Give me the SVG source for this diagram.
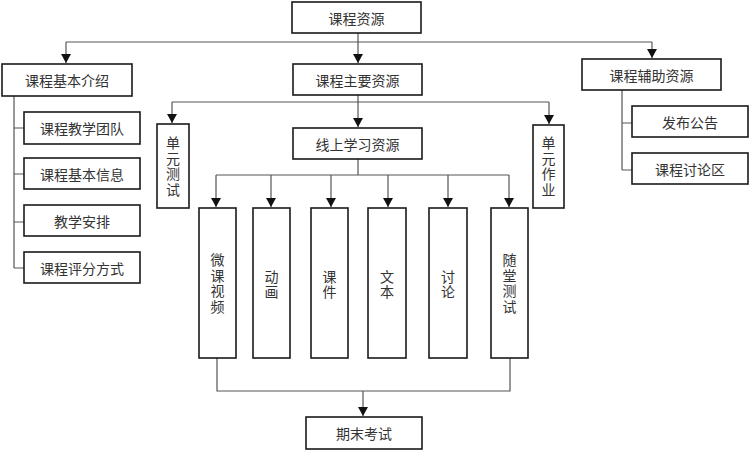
<svg xmlns="http://www.w3.org/2000/svg" width="749" height="451" viewBox="0 0 749 451">
<style>
.b{fill:#fff;stroke:#1a1a1a;stroke-width:1.6}
.t{font-family:"Noto Sans CJK SC","Noto Sans CJK JP",sans-serif;font-size:14px;fill:#333;text-anchor:middle;dominant-baseline:central}
.v{font-family:"Noto Sans CJK SC","Noto Sans CJK JP",sans-serif;font-size:14px;fill:#333;text-anchor:middle;writing-mode:vertical-rl;letter-spacing:1.5px}
.c{fill:none;stroke:#555;stroke-width:1.2}
</style>
<defs>
<marker id="a" markerUnits="userSpaceOnUse" markerWidth="10" markerHeight="9" viewBox="0 0 10 9" refX="5" refY="9" orient="0">
<path d="M0 0 L10 0 L5 9 Z" fill="#111"/>
</marker>
</defs>
<rect width="749" height="451" fill="#fff"/>
<g id="connectors">
<path class="c" d="M66 42 H652"/>
<path class="c" d="M358 33 V63" marker-end="url(#a)"/>
<path class="c" d="M66 42 V63" marker-end="url(#a)"/>
<path class="c" d="M652 42 V58" marker-end="url(#a)"/>
<path class="c" d="M14 96 V268 M14 128 H24 M14 174 H24 M14 222 H24 M14 268 H24"/>
<path class="c" d="M622 90 V170 M622 123 H632 M622 170 H632"/>
<path class="c" d="M172 102 H549"/>
<path class="c" d="M358 95 V127" marker-end="url(#a)"/>
<path class="c" d="M172 102 V123" marker-end="url(#a)"/>
<path class="c" d="M549 102 V124" marker-end="url(#a)"/>
<path class="c" d="M358 159 V175 M216 175 H509"/>
<path class="c" d="M216 175 V207" marker-end="url(#a)"/>
<path class="c" d="M271 175 V207" marker-end="url(#a)"/>
<path class="c" d="M331 175 V207" marker-end="url(#a)"/>
<path class="c" d="M388 175 V207" marker-end="url(#a)"/>
<path class="c" d="M448 175 V207" marker-end="url(#a)"/>
<path class="c" d="M509 175 V207" marker-end="url(#a)"/>
<path class="c" d="M217 358 V391 H510 V358"/>
<path class="c" d="M363 391 V416" marker-end="url(#a)"/>
</g>
<g id="n-root"><rect class="b" x="292" y="2" width="129" height="31"/><text class="t" x="356.5" y="17.5">课程资源</text></g>
<g id="n-intro"><rect class="b" x="2" y="64" width="130" height="32"/><text class="t" x="67" y="80">课程基本介绍</text></g>
<g id="n-main"><rect class="b" x="293" y="64" width="129" height="31"/><text class="t" x="357.5" y="79.5">课程主要资源</text></g>
<g id="n-aux"><rect class="b" x="582" y="59" width="139" height="31"/><text class="t" x="651.5" y="74.5">课程辅助资源</text></g>
<g id="n-team"><rect class="b" x="24" y="112" width="116" height="32"/><text class="t" x="82" y="128">课程教学团队</text></g>
<g id="n-info"><rect class="b" x="24" y="158" width="116" height="31"/><text class="t" x="82" y="173.5">课程基本信息</text></g>
<g id="n-plan"><rect class="b" x="24" y="205" width="116" height="31"/><text class="t" x="82" y="220.5">教学安排</text></g>
<g id="n-grade"><rect class="b" x="24" y="252" width="116" height="31"/><text class="t" x="82" y="267.5">课程评分方式</text></g>
<g id="n-notice"><rect class="b" x="632" y="106" width="116" height="31"/><text class="t" x="690" y="121.5">发布公告</text></g>
<g id="n-forum"><rect class="b" x="632" y="153" width="116" height="31"/><text class="t" x="690" y="168.5">课程讨论区</text></g>
<g id="n-unittest"><rect class="b" x="157" y="124" width="32" height="84"/><text class="v" x="173" y="167" letter-spacing="2.5">单元测试</text></g>
<g id="n-homework"><rect class="b" x="533" y="125" width="31" height="83"/><text class="v" x="548.5" y="167" letter-spacing="2.5">单元作业</text></g>
<g id="n-online"><rect class="b" x="293" y="128" width="129" height="31"/><text class="t" x="357.5" y="143.5">线上学习资源</text></g>
<g id="n-video"><rect class="b" x="199" y="208" width="37" height="150"/><text class="v" x="217.5" y="284">微课视频</text></g>
<g id="n-anim"><rect class="b" x="253" y="208" width="37" height="150"/><text class="v" x="271.5" y="285">动画</text></g>
<g id="n-slides"><rect class="b" x="311" y="208" width="37" height="150"/><text class="v" x="329.5" y="285">课件</text></g>
<g id="n-text"><rect class="b" x="368" y="208" width="38" height="150"/><text class="v" x="387" y="285">文本</text></g>
<g id="n-discuss"><rect class="b" x="429" y="208" width="38" height="150"/><text class="v" x="448" y="285">讨论</text></g>
<g id="n-quiz"><rect class="b" x="491" y="208" width="37" height="150"/><text class="v" x="509.5" y="284">随堂测试</text></g>
<g id="n-final"><rect class="b" x="306" y="417" width="116" height="32"/><text class="t" x="364" y="433">期末考试</text></g>
</svg>
